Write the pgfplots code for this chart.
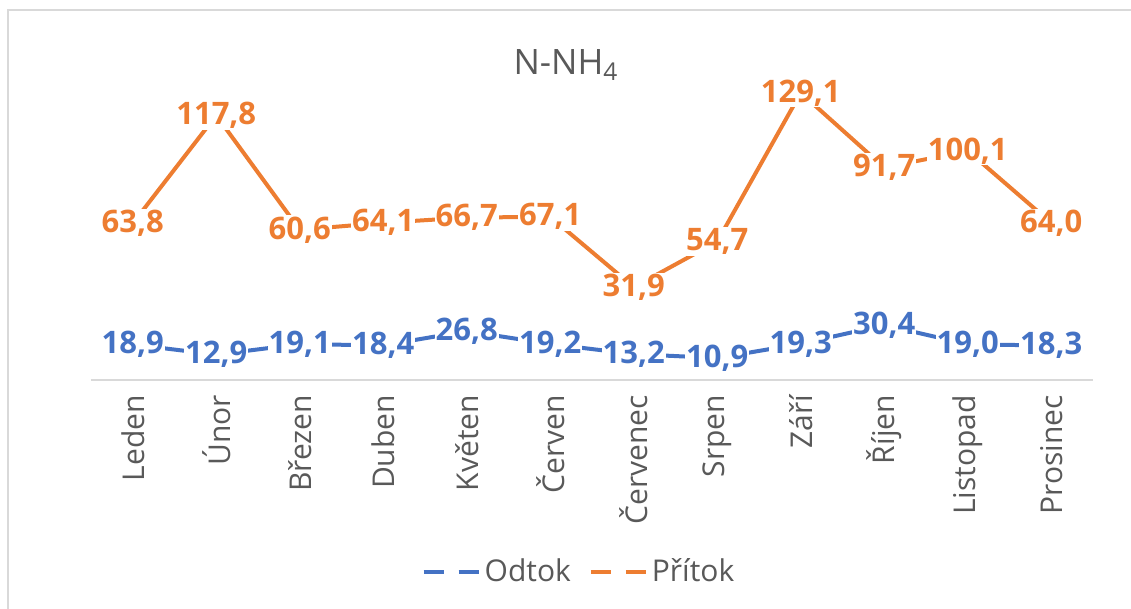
\documentclass[border=0pt]{standalone}
\usepackage{pgfplots}
\pgfplotsset{compat=1.18}
\usepackage{fontspec}
\setmainfont{Open Sans}
\definecolor{cblue}{HTML}{4472C4}
\definecolor{corange}{HTML}{ED7D31}
\definecolor{ctext}{HTML}{595959}
\definecolor{caxis}{HTML}{D9D9D9}
\begin{document}
\begin{tikzpicture}
\useasboundingbox (0,0) rectangle (565.5pt,304.5pt);
\draw[caxis, line width=0.8pt] (4pt,0pt) -- (4pt,299.5pt) -- (565.5pt,299.5pt);
\pgfplotsset{
  common/.style={
    width=501pt, height=150pt, scale only axis,
    at={(45.5pt,114.5pt)}, anchor=south west,
    xmin=-0.5, xmax=11.5,
    clip=false,
    /pgf/number format/assume math mode=true,
    /pgf/number format/fixed,
    /pgf/number format/fixed zerofill,
    /pgf/number format/precision=1,
    /pgf/number format/use comma,
    nodes near coords,
    nodes near coords style={anchor=center, fill=white, inner sep=0.6pt,
      font=\fontsize{15.5}{18}\selectfont\bfseries},
  }
}
\begin{axis}[common,
  ymin=-2.1, ymax=175.4,
  axis y line=none,
  axis x line*=bottom,
  x axis line style={-, draw=caxis, line width=1pt},
  xtick={0,...,11},
  xticklabels={Leden,Únor,Březen,Duben,Květen,Červen,Červenec,Srpen,Září,Říjen,Listopad,Prosinec},
  major tick length=0pt,
  xticklabel style={rotate=90, anchor=east, text=ctext, font=\fontsize{15}{18}\selectfont, xshift=-4pt},
  ylabel={c [mg·l\textsuperscript{-1}]},
  ylabel style={at={(axis description cs:-0.046,0.45)}, anchor=center, text=ctext, font=\fontsize{15}{18}\selectfont},
  title={N-NH\textsubscript{4}},
  every axis title shift=0pt,
  title style={at={(axis description cs:0.474,1.05)}, anchor=center, yshift=0pt, text=ctext, font=\fontsize{17.5}{21}\selectfont},
]
\addplot[cblue, line width=2pt, forget plot, nodes near coords style={text=cblue}] coordinates {
 (0,18.9) (1,12.9) (2,19.1) (3,18.4) (4,26.8) (5,19.2) (6,13.2) (7,10.9) (8,19.3) (9,30.4) (10,19.0) (11,18.3)};
\end{axis}
\begin{axis}[common,
  ymin=-14.5, ymax=135.5,
  hide axis,
  legend columns=2,
  legend style={draw=none, at={(0.488,-0.64)}, anchor=center,
    font=\fontsize{15}{18}\selectfont, text=ctext,
    /tikz/every even column/.append style={column sep=7pt}},
  legend image code/.code={\draw[#1, dash pattern=on 10pt off 7.5pt] (0pt,0pt) -- (27.5pt,0pt);},
]
\addplot[corange, line width=2pt, forget plot, nodes near coords style={text=corange}] coordinates {
 (0,63.8) (1,117.8) (2,60.6) (3,64.1) (4,66.7) (5,67.1) (6,31.9) (7,54.7) (8,129.1) (9,91.7) (10,100.1) (11,64.0)};
\addlegendimage{cblue, line width=2pt}
\addlegendentry{Odtok}
\addlegendimage{corange, line width=2pt}
\addlegendentry{Přítok}
\end{axis}
\end{tikzpicture}
\end{document}
